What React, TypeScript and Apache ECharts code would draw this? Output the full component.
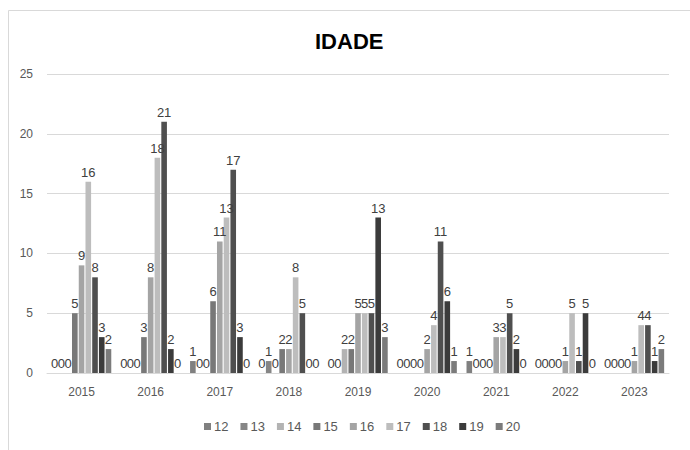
import React, { useEffect, useRef } from "react";
import * as echarts from "echarts";

const years = ["2015", "2016", "2017", "2018", "2019", "2020", "2021", "2022", "2023"];
const ages = ["12", "13", "14", "15", "16", "17", "18", "19", "20"];
const age12 = [0, 0, 1, 0, 0, 0, 1, 0, 0];
const age13 = [0, 0, 0, 1, 0, 0, 0, 0, 0];
const age14 = [0, 0, 0, 0, 2, 0, 0, 0, 0];
const age15 = [5, 3, 6, 2, 2, 0, 0, 0, 0];
const age16 = [9, 8, 11, 2, 5, 2, 3, 1, 1];
const age17 = [16, 18, 13, 8, 5, 4, 3, 5, 4];
const age18 = [8, 21, 17, 5, 5, 11, 5, 1, 4];
const age19 = [3, 2, 3, 0, 13, 6, 2, 5, 1];
const age20 = [2, 0, 0, 0, 3, 1, 0, 0, 2];
const seriesValues = [age12, age13, age14, age15, age16, age17, age18, age19, age20];
const colors = ["#808080", "#868686", "#b3b3b3", "#787878", "#a4a4a4", "#bdbdbd", "#4f4f4f", "#3b3b3b", "#7b7b7b"];
const yTicks = { min: 0, max: 25, interval: 5 };

export default function App() {
  const ref = useRef<HTMLDivElement>(null);
  useEffect(() => {
    if (!ref.current) return;
    const chart = echarts.init(ref.current, undefined, { renderer: "svg" });
    const font = "Liberation Sans";
    chart.setOption({
      animation: false,
      color: colors,
      title: {
        text: "IDADE",
        left: 310,
        top: 25,
        textStyle: { fontFamily: "Liberation Sans Narrow, Liberation Sans", fontWeight: "bold", fontSize: 22, color: "#000" },
      },
      graphic: [
        { type: "line", shape: { x1: 8.5, y1: 10.5, x2: 690, y2: 10.5 }, style: { stroke: "#d9d9d9", lineWidth: 1 } },
        { type: "line", shape: { x1: 8.5, y1: 10.5, x2: 8.5, y2: 450 }, style: { stroke: "#d9d9d9", lineWidth: 1 } },
      ],
      legend: {
        bottom: 12,
        left: 199,
        itemWidth: 7,
        itemHeight: 7,
        itemGap: 12,
        icon: "rect",
        textStyle: { fontFamily: font, fontSize: 13, color: "#595959", padding: [0, 0, 0, -2] },
        data: ages,
      },
      grid: { left: 47, right: 21, top: 74, bottom: 77 },
      xAxis: {
        type: "category",
        data: years,
        axisLine: { lineStyle: { color: "#d9d9d9" } },
        axisTick: { show: false },
        axisLabel: { fontFamily: font, fontSize: 12, color: "#595959", margin: 13 },
      },
      yAxis: {
        type: "value",
        min: yTicks.min,
        max: yTicks.max,
        interval: yTicks.interval,
        axisLine: { show: false },
        axisTick: { show: false },
        splitLine: { lineStyle: { color: "#d9d9d9" } },
        axisLabel: { fontFamily: font, fontSize: 12, color: "#595959", margin: 14 },
      },
      series: ages.map((a, i) => ({
        name: a,
        type: "bar",
        data: seriesValues[i],
        barGap: "20%",
        barCategoryGap: "14%",
        label: {
          show: true,
          position: "top",
          distance: 3,
          fontFamily: font,
          fontSize: 13,
          color: "#404040",
          textBorderWidth: 0,
        },
      })),
    });
    return () => chart.dispose();
  }, []);
  return <div ref={ref} style={{ width: 690, height: 450, position: "absolute", left: 0, top: 0 }} />;
}
